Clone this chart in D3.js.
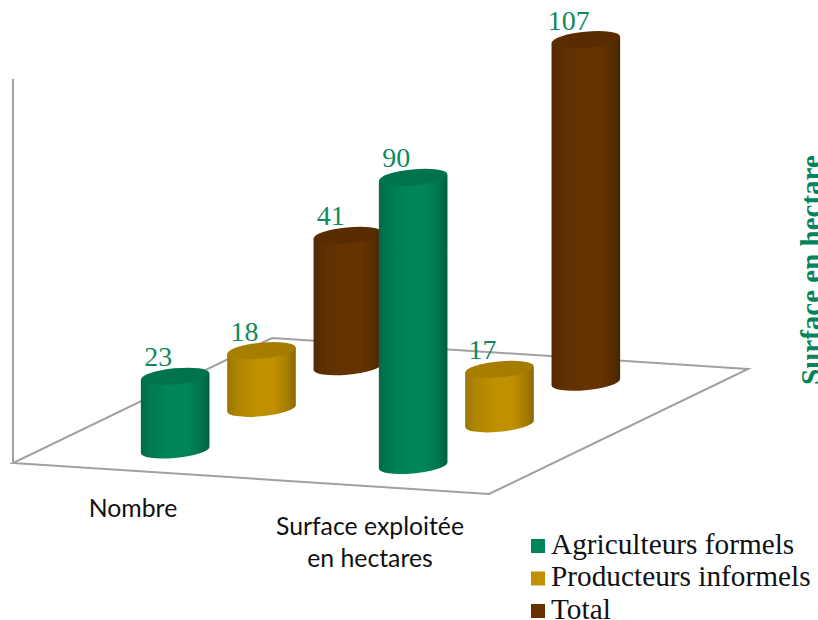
<!DOCTYPE html>
<html>
<head>
<meta charset="utf-8">
<script src="https://cdn.jsdelivr.net/npm/d3@7"></script>
<style>
  html, body { margin: 0; padding: 0; background: #fff; overflow: hidden; }
</style>
</head>
<body>
<div id="chart"></div>
<script>
const categories = ["Nombre", "Surface exploitée en hectares"];
const categoryLines = [["Nombre"], ["Surface exploitée", "en hectares"]];
const seriesNames = ["Agriculteurs formels", "Producteurs informels", "Total"];
const seriesColors = ["#00855a", "#bf9000", "#663300"];
const agriculteurs = [23, 90];
const producteurs = [18, 17];
const total = [41, 107];
const seriesValues = [agriculteurs, producteurs, total];
const axisMax = 120;

const width = 818, height = 620;

const svg = d3.select("#chart").append("svg")
  .attr("width", width)
  .attr("height", height)
  .style("display", "block");

const defs = svg.append("defs");

// le plancher : coin avant gauche + deux vecteurs
const origin = [13, 463];
const alongCat = [476, 31];
const alongSeries = [259, -125];

const catScale = d3.scaleBand().domain(d3.range(categories.length)).range([0, 1]);
const seriesScale = d3.scaleBand().domain(d3.range(seriesNames.length)).range([0, 1]);
const valueScale = d3.scaleLinear().domain([0, axisMax]).range([0, 384]);

function project(u, v, val) {
  return [
    origin[0] + alongCat[0] * u + alongSeries[0] * v,
    origin[1] + alongCat[1] * u + alongSeries[1] * v - valueScale(val)
  ];
}

// floor and vertical axis
const floor = [project(0, 0, 0), project(1, 0, 0), project(1, 1, 0), project(0, 1, 0)];
svg.append("path")
  .attr("d", d3.line()(floor) + "Z")
  .attr("fill", "none")
  .attr("stroke", "#a0a0a0")
  .attr("stroke-width", 2);
svg.append("path")
  .attr("d", d3.line()([project(0, 0, 0), project(0, 0, axisMax)]))
  .attr("fill", "none")
  .attr("stroke", "#a0a0a0")
  .attr("stroke-width", 2);

// gradients
seriesColors.forEach((c, i) => {
  const dark = d3.color(c).darker(0.9);
  const g = defs.append("linearGradient").attr("id", "body" + i);
  [[0, d3.color(c).darker(0.6)], [0.14, d3.color(c).darker(0.25)], [0.45, c], [0.68, c], [0.88, d3.color(c).darker(0.4)], [1, dark]]
    .forEach(s => g.append("stop").attr("offset", s[0]).attr("stop-color", s[1]));
  const t = defs.append("linearGradient").attr("id", "top" + i);
  t.append("stop").attr("offset", 0).attr("stop-color", d3.color(c).darker(0.35));
  t.append("stop").attr("offset", 1).attr("stop-color", d3.color(c).darker(0.45));
});

const rx = 34.3, ry = 8, tilt = -5.5, edge = 3;

// back rows first so that the front cylinders cover them
const bars = [];
seriesNames.forEach((s, si) => {
  categories.forEach((c, ci) => {
    bars.push({ ci, si, value: seriesValues[si][ci] });
  });
});
bars.sort((a, b) => b.si - a.si || a.ci - b.ci);

const u = d => catScale(d.ci) + catScale.bandwidth() / 2;
const v = d => seriesScale(d.si) + seriesScale.bandwidth() / 2;

const bar = svg.selectAll(".cyl")
  .data(bars)
  .enter()
  .append("g")
  .attr("class", "cyl");

bar.append("path")
  .attr("fill", d => `url(#body${d.si})`)
  .attr("d", d => {
    const [bx, by] = project(u(d), v(d), 0);
    const [, ty] = project(u(d), v(d), d.value);
    return `M${bx - rx},${ty + edge}L${bx - rx},${by + edge}`
      + `A${rx},${ry} ${tilt} 0 0 ${bx + rx},${by - edge}`
      + `L${bx + rx},${ty - edge}Z`;
  });

bar.append("ellipse")
  .attr("rx", rx)
  .attr("ry", ry)
  .attr("fill", d => `url(#top${d.si})`)
  .attr("transform", d => {
    const [x, y] = project(u(d), v(d), d.value);
    return `translate(${x},${y}) rotate(${tilt})`;
  });

// value labels
svg.selectAll(".val")
  .data(bars)
  .enter()
  .append("text")
  .attr("class", "val")
  .attr("x", d => project(u(d), v(d), d.value)[0] - 17)
  .attr("y", d => project(u(d), v(d), d.value)[1] - 10)
  .attr("text-anchor", "middle")
  .style("font-family", "'Liberation Serif', serif")
  .style("font-size", "28px")
  .style("fill", "#0f8a60")
  .text(d => d.value);

// category labels
const catLabelX = [133, 370];
const catLabelY = [517, 535];
categoryLines.forEach((lines, i) => {
  const t = svg.append("text")
    .attr("text-anchor", "middle")
    .style("font-family", "Lato, sans-serif")
    .style("font-size", "24.8px")
    .style("fill", "#111");
  lines.forEach((l, j) => {
    t.append("tspan")
      .attr("x", catLabelX[i])
      .attr("y", catLabelY[i] + j * 32)
      .text(l);
  });
});

// legend
const legendY = d3.scalePoint().domain(d3.range(seriesNames.length)).range([546, 611]);
const legend = svg.selectAll(".leg")
  .data(seriesNames)
  .enter()
  .append("g")
  .attr("class", "leg");
legend.append("rect")
  .attr("x", 531)
  .attr("y", (d, i) => legendY(i) - 7)
  .attr("width", 14)
  .attr("height", 14)
  .attr("fill", (d, i) => seriesColors[i]);
legend.append("text")
  .attr("x", 551)
  .attr("y", (d, i) => legendY(i) + 7.5)
  .style("font-family", "'Liberation Serif', serif")
  .style("font-size", "29.3px")
  .style("fill", "#111")
  .text(d => d);

// rotated title, cut by the right edge
svg.append("text")
  .attr("transform", "translate(821,385) rotate(-90)")
  .style("font-family", "'Liberation Serif', serif")
  .style("font-weight", "bold")
  .style("font-size", "29px")
  .style("fill", "#00855a")
  .text("Surface en hectare");
</script>
</body>
</html>
